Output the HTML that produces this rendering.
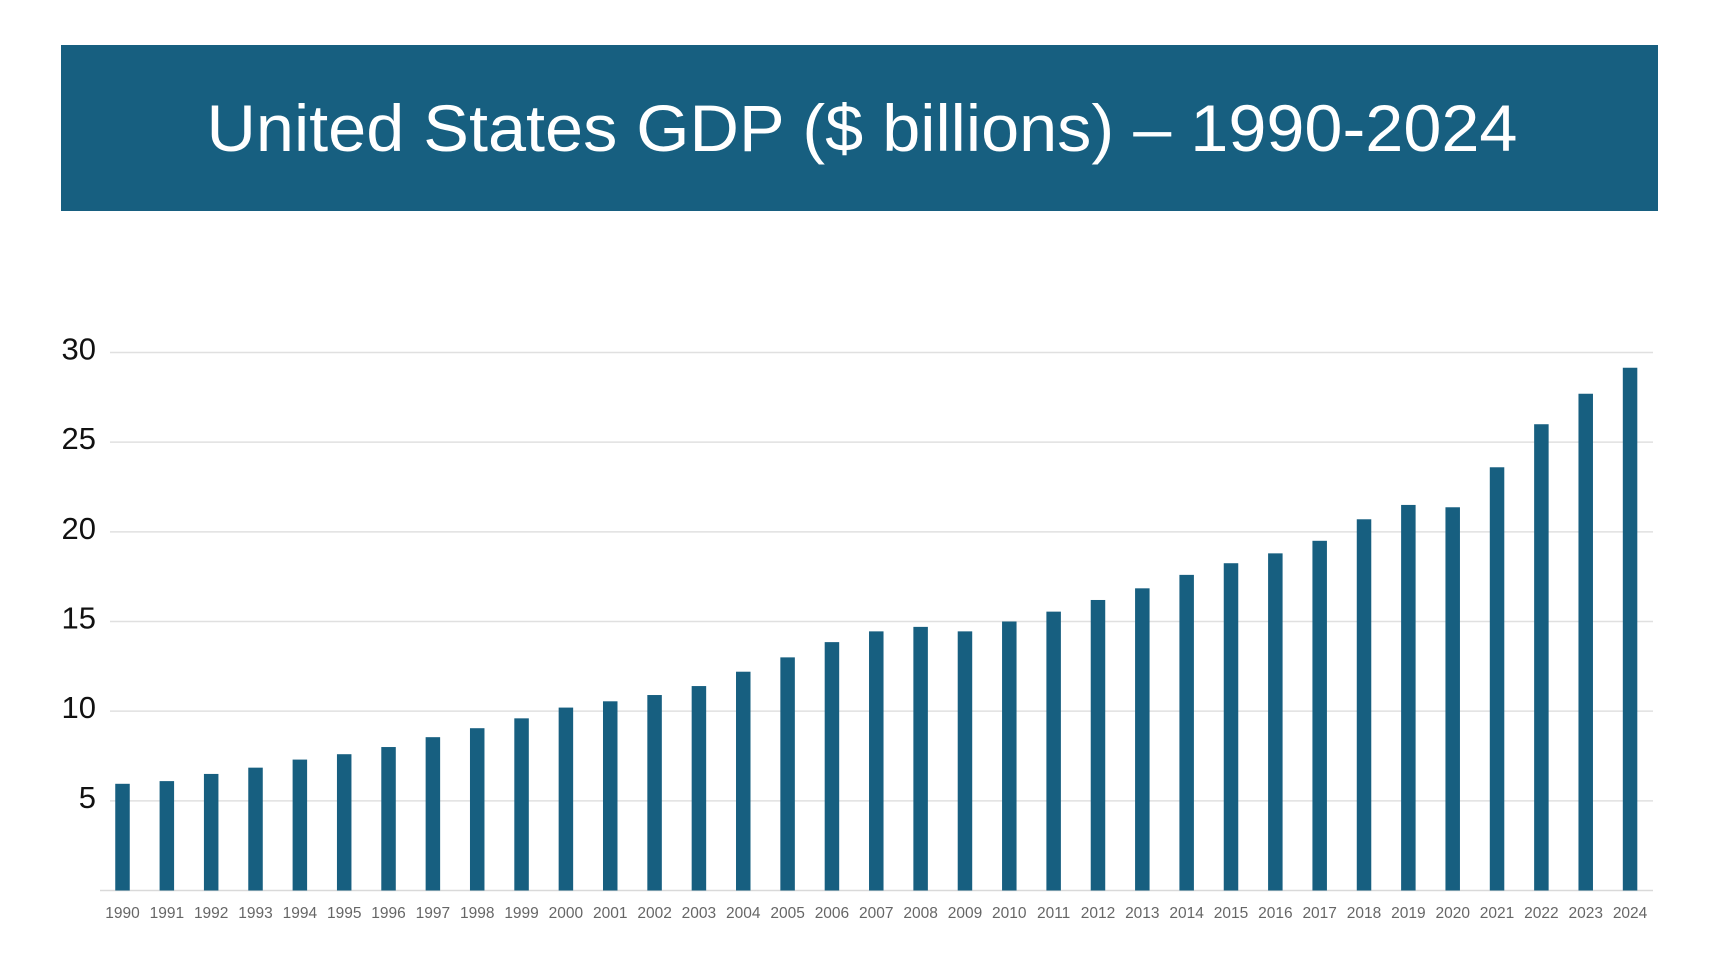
<!DOCTYPE html>
<html><head><meta charset="utf-8"><style>
html,body{margin:0;padding:0;background:#fff;}
svg{display:block;font-family:"Liberation Sans",sans-serif;}
</style></head><body>
<svg id="chart" width="1722" height="978" viewBox="0 0 1722 978" xmlns="http://www.w3.org/2000/svg">
<rect x="61" y="45" width="1597" height="166" fill="#175f80"/>
<text x="862" y="151" text-anchor="middle" font-size="66" fill="#fff" textLength="1311" lengthAdjust="spacingAndGlyphs">United States GDP ($ billions) – 1990-2024</text>
<g id="grid"></g><g id="bars"></g><g id="xlabels"></g><g id="ylabels"></g>
</svg>
<script>
const years = ["1990","1991","1992","1993","1994","1995","1996","1997","1998","1999","2000","2001","2002","2003","2004","2005","2006","2007","2008","2009","2010","2011","2012","2013","2014","2015","2016","2017","2018","2019","2020","2021","2022","2023","2024"];
const gdp = [5.95,6.1,6.5,6.85,7.3,7.6,8.0,8.55,9.05,9.6,10.2,10.55,10.9,11.4,12.2,13.0,13.85,14.45,14.7,14.45,15.0,15.55,16.2,16.85,17.6,18.25,18.8,19.5,20.7,21.5,21.37,23.6,26.0,27.7,29.15];
const yTicks = [5,10,15,20,25,30];
const NS="http://www.w3.org/2000/svg";
const y0=890.5, yTop=352.5, vMax=30;
function yScale(v){return y0-(y0-yTop)*v/vMax;}
const x0=122.5, step=44.34;
function xScale(i){return x0+i*step;}
function mk(tag,attrs,parent){const e=document.createElementNS(NS,tag);for(const k in attrs)e.setAttribute(k,attrs[k]);document.getElementById(parent).appendChild(e);return e;}
yTicks.forEach(t=>{
  const l=mk('line',{x1:110,x2:1653,y1:yScale(t),y2:yScale(t),stroke:'#e0e0e0','stroke-width':1.5},'grid');
  
  
  const tx=mk('text',{x:96,y:yScale(t)+7,'text-anchor':'end','font-size':31,fill:'#111'},'ylabels');
  tx.textContent=t;
  
  
});
const base=mk('line',{x1:100,x2:1653,y1:y0,y2:y0,stroke:'#d9d9d9','stroke-width':1.5},'grid');


gdp.forEach((v,i)=>{
  const b=mk('rect',{x:xScale(i)-7.25,y:yScale(v),width:14.5,height:y0-yScale(v),fill:'#175f80'},'bars');
  
  
  const t=mk('text',{x:xScale(i),y:918,'text-anchor':'middle','font-size':15.5,fill:'#666'},'xlabels');
  t.textContent=years[i];
  
  
});
</script>
</body></html>
